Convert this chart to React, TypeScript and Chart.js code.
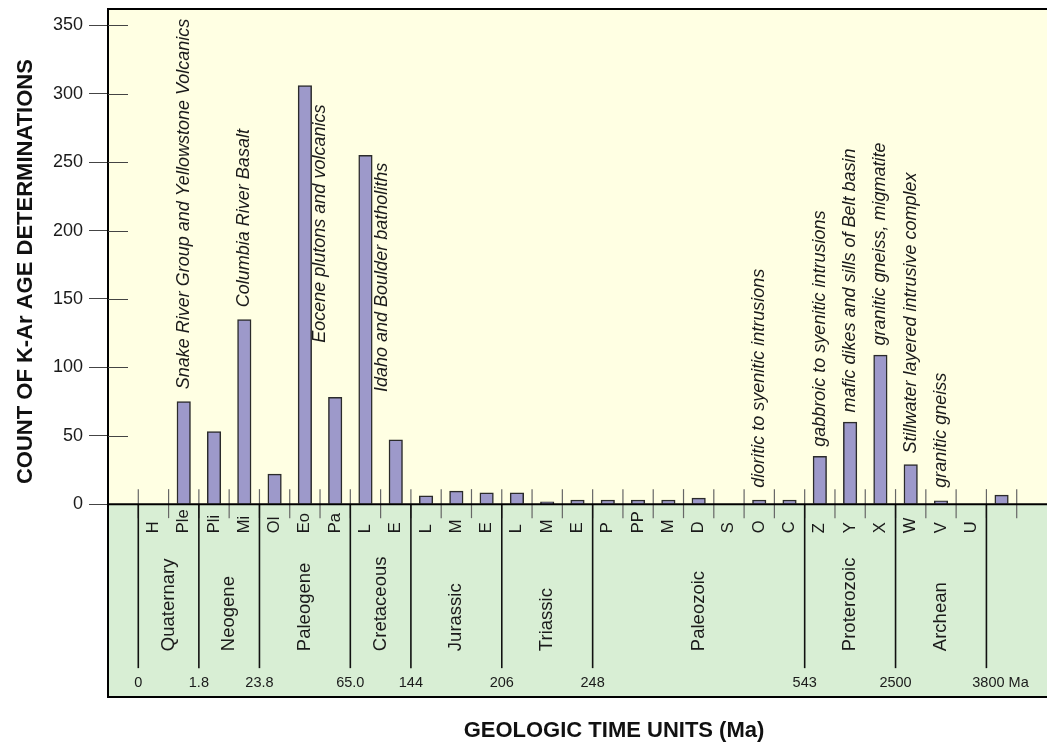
import React, { useEffect, useRef } from 'react';
import { Chart, registerables } from 'chart.js';

Chart.register(...registerables);

// one slot per geologic unit, plus blank slots at both ends
const slotLabels = ['', 'H', 'Ple', 'Pli', 'Mi', 'Ol', 'Eo', 'Pa', 'L', 'E', 'L', 'M', 'E', 'L', 'M', 'E', 'P', 'PP', 'M', 'D', 'S', 'O', 'C', 'Z', 'Y', 'X', 'W', 'V', 'U', '', ''];
const kArCounts = [null, null, 75, 53, 135, 22, 306, 78, 255, 47, 6, 9.5, 8.3, 8.3, 1.7, 3, 3, 3, 3, 4.4, null, 3, 3, 35, 60, 109, 29, 2.5, null, 6.6, null];
const yTicks = [0, 50, 100, 150, 200, 250, 300, 350];

const periodNames = ['Quaternary', 'Neogene', 'Paleogene', 'Cretaceous', 'Jurassic', 'Triassic', 'Paleozoic', 'Proterozoic', 'Archean'];
const periodFirstSlot = [1, 3, 5, 8, 10, 13, 16, 23, 26];
const periodLastSlot = [2, 4, 7, 9, 12, 15, 22, 25, 28];
const boundaryAges = ['0', '1.8', '23.8', '65.0', '144', '206', '248', '543', '2500', '3800'];

const noteTexts = [
  'Snake River Group and Yellowstone Volcanics',
  'Columbia River Basalt',
  'Eocene plutons and volcanics',
  'Idaho and Boulder batholiths',
  'dioritic to syenitic intrusions',
  'gabbroic to syenitic intrusions',
  'mafic dikes and sills of Belt basin',
  'granitic gneiss, migmatite',
  'Stillwater layered intrusive complex',
  'granitic gneiss',
];
const noteSlot = [2, 4, 6.5, 8.55, 21, 23, 24, 25, 26, 27];
const noteStart = [84, 144, 118, 82, 12, 42, 67, 116, 37, 12];

const FONT = '"Liberation Sans", Arial, Helvetica, sans-serif';
const YELLOW = '#FFFFE3';
const GREEN = '#D8EED4';
const BAR = '#9D99CA';

const rotatedText = (ctx: CanvasRenderingContext2D, text: string, x: number, y: number, align: CanvasTextAlign) => {
  ctx.save();
  ctx.translate(x, y);
  ctx.rotate(-Math.PI / 2);
  ctx.textAlign = align;
  ctx.textBaseline = 'middle';
  ctx.fillText(text, 0, 0);
  ctx.restore();
};

const line = (ctx: CanvasRenderingContext2D, x1: number, y1: number, x2: number, y2: number) => {
  ctx.beginPath();
  ctx.moveTo(x1, y1);
  ctx.lineTo(x2, y2);
  ctx.stroke();
};

const geoPanel = {
  id: 'geoPanel',
  beforeDraw(chart: any) {
    const { ctx, chartArea: a, scales: { y } } = chart;
    const zero = y.getPixelForValue(0);
    ctx.save();
    ctx.fillStyle = YELLOW;
    ctx.fillRect(a.left, a.top, chart.width - a.left, zero - a.top);
    ctx.fillStyle = GREEN;
    ctx.fillRect(a.left, zero, chart.width - a.left, a.bottom - zero);
    ctx.restore();
  },
  afterDatasetsDraw(chart: any) {
    const { ctx, chartArea: a, scales: { x, y } } = chart;
    const zero = y.getPixelForValue(0);
    const right = chart.width;
    ctx.save();

    // inner half of the y tick marks
    ctx.strokeStyle = '#444';
    ctx.lineWidth = 1;
    yTicks.forEach(v => {
      if (v === 0) return;
      const py = Math.round(y.getPixelForValue(v)) + 0.5;
      line(ctx, a.left, py, a.left + 20, py);
    });

    // short ticks between slots
    ctx.strokeStyle = '#666';
    ctx.lineWidth = 1.2;
    for (let k = 0; k < slotLabels.length - 1; k++) {
      const px = x.getPixelForValue(k + 0.5);
      line(ctx, px, zero - 15, px, zero + 14);
    }

    // period boundaries
    const bounds = periodFirstSlot.map(s => s - 0.5).concat(periodLastSlot[periodLastSlot.length - 1] + 0.5);
    ctx.strokeStyle = '#111';
    ctx.lineWidth = 1.6;
    bounds.forEach(b => {
      const px = x.getPixelForValue(b);
      line(ctx, px, zero, px, zero + 164);
    });

    // frame and zero line
    ctx.strokeStyle = '#000';
    ctx.lineWidth = 2;
    line(ctx, a.left, zero, right, zero);
    line(ctx, a.left - 1, a.top, right, a.top);
    line(ctx, a.left - 1, a.bottom, right, a.bottom);

    ctx.fillStyle = '#1a1a1a';
    // unit labels
    ctx.font = `16.5px ${FONT}`;
    slotLabels.forEach((lab, i) => {
      if (lab) rotatedText(ctx, lab, x.getPixelForValue(i), zero + 29, 'left');
    });

    // period names
    ctx.font = `18.5px ${FONT}`;
    periodNames.forEach((name, i) => {
      const cx = (x.getPixelForValue(periodFirstSlot[i] - 0.5) + x.getPixelForValue(periodLastSlot[i] + 0.5)) / 2;
      rotatedText(ctx, name, cx, zero + 147, 'left');
    });

    // boundary ages
    ctx.font = `14.5px ${FONT}`;
    ctx.textBaseline = 'alphabetic';
    boundaryAges.forEach((age, i) => {
      const px = x.getPixelForValue(bounds[i]);
      if (i === boundaryAges.length - 1) {
        const w = ctx.measureText(age).width;
        ctx.textAlign = 'left';
        ctx.fillText(`${age} Ma`, px - w / 2 + 2, zero + 183);
      } else {
        ctx.textAlign = 'center';
        ctx.fillText(age, px, zero + 183);
      }
    });

    // rock unit notes
    ctx.font = `italic 18px ${FONT}`;
    noteTexts.forEach((t, i) => {
      rotatedText(ctx, t, x.getPixelForValue(noteSlot[i]), y.getPixelForValue(noteStart[i]), 'left');
    });
    ctx.restore();
  },
  afterDraw(chart: any) {
    const { ctx, scales: { y } } = chart;
    const midY = (y.getPixelForValue(0) + chart.chartArea.top) / 2 + 15;
    ctx.save();
    ctx.fillStyle = '#111';
    ctx.font = `bold 22px ${FONT}`;
    ctx.save();
    ctx.translate(32, midY);
    ctx.rotate(-Math.PI / 2);
    ctx.textAlign = 'center';
    ctx.textBaseline = 'alphabetic';
    ctx.fillText('COUNT OF K-Ar AGE DETERMINATIONS', 0, 0);
    ctx.restore();
    ctx.textAlign = 'center';
    ctx.textBaseline = 'alphabetic';
    ctx.fillText('GEOLOGIC TIME UNITS (Ma)', 614, 737);
    ctx.restore();
  },
};

const App = () => {
  const canvasRef = useRef<HTMLCanvasElement>(null);
  const chartRef = useRef<Chart | null>(null);

  useEffect(() => {
    if (!canvasRef.current) return;
    if (chartRef.current) chartRef.current.destroy();

    chartRef.current = new Chart(canvasRef.current, {
      type: 'bar',
      data: {
        labels: slotLabels,
        datasets: [{
          data: kArCounts,
          backgroundColor: BAR,
          borderColor: '#2b2b2b',
          borderWidth: 1.5,
          barThickness: 13.5,
        }],
      },
      options: {
        responsive: false,
        animation: false,
        events: [],
        layout: { padding: { top: 9, bottom: 48, left: 0, right: -4 } },
        plugins: { legend: { display: false }, tooltip: { enabled: false } },
        scales: {
          x: { display: false, offset: true },
          y: {
            min: -141,
            max: 362,
            afterBuildTicks: (axis: any) => { axis.ticks = yTicks.map(v => ({ value: v })); },
            afterFit: (axis: any) => {
              axis.width = 108;
              axis.paddingTop = 0;
              axis.paddingBottom = 0;
            },
            grid: { drawOnChartArea: false, drawTicks: true, tickLength: 19, tickColor: '#444', tickWidth: 1 },
            border: { display: true, color: '#000', width: 2 },
            ticks: { color: '#1a1a1a', padding: 6, font: { family: FONT, size: 18 } },
          },
        },
      },
      plugins: [geoPanel],
    } as any);

    return () => {
      if (chartRef.current) {
        chartRef.current.destroy();
        chartRef.current = null;
      }
    };
  }, []);

  return (
    <div style={{ position: 'absolute', left: 0, top: 0, width: 1047, height: 745, background: '#fff' }}>
      <canvas ref={canvasRef} width={1047} height={745} style={{ display: 'block' }} />
    </div>
  );
};

export default App;
